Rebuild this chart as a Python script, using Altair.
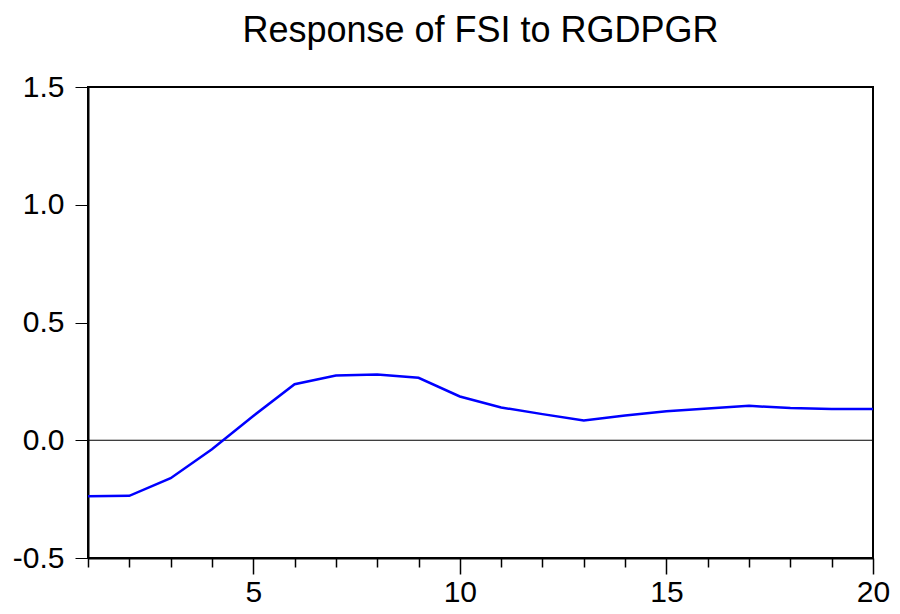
import altair as alt
import pandas as pd

periods = list(range(1, 21))
response = [-0.238, -0.236, -0.161, -0.038, 0.103, 0.238, 0.275, 0.279, 0.265, 0.186,
            0.139, 0.111, 0.084, 0.105, 0.123, 0.135, 0.146, 0.137, 0.133, 0.133]
y_ticks = [-0.5, 0.0, 0.5, 1.0, 1.5]
x_ticks = list(range(1, 21))
title_text = "Response of FSI to RGDPGR"

df = pd.DataFrame({"period": periods, "response": response})
zero_df = pd.DataFrame({"y": [0.0]})

FONT = "Liberation Sans"

x_enc = alt.X(
    "period:Q",
    scale=alt.Scale(domain=[1, 20], nice=False, zero=False),
    axis=alt.Axis(
        values=x_ticks,
        labelExpr="datum.value % 5 === 0 ? datum.label : ''",
        tickSize={"condition": {"test": "datum.value % 5 === 0", "value": 16}, "value": 9},
        tickColor="black",
        tickWidth=1.5,
        domainColor="black",
        domainWidth=2,
        labelFontSize=30,
        labelFont=FONT,
        labelColor="black",
        labelPadding=3,
        grid=False,
        title=None,
        labelFlush=False,
        labelOverlap=False,
    ),
)
y_enc = alt.Y(
    "response:Q",
    scale=alt.Scale(domain=[-0.5, 1.5], nice=False, zero=False),
    axis=alt.Axis(
        values=y_ticks,
        labelExpr="datum.value < 0 ? '-' + format(-datum.value, '.1f') : format(datum.value, '.1f')",
        tickSize=13,
        tickColor="black",
        domainColor="black",
        domainWidth=2,
        labelFontSize=30,
        labelFont=FONT,
        labelColor="black",
        labelPadding=11,
        grid=False,
        title=None,
        labelFlush=False,
        labelOverlap=False,
    ),
)

line = alt.Chart(df).mark_line(color="#0000FF", strokeWidth=2.5).encode(x=x_enc, y=y_enc)
zero = alt.Chart(zero_df).mark_rule(color="black", strokeWidth=1).encode(y="y:Q")

chart = (
    alt.layer(zero, line)
    .properties(
        width=785,
        height=471,
        title=alt.TitleParams(title_text, font=FONT, fontSize=36, fontWeight="normal",
                              color="black", anchor="middle", offset=22),
        autosize=alt.AutoSizeParams(type="none"),
        padding={"left": 80, "top": 79, "right": 19, "bottom": 48},
        background="white",
    )
    .configure_view(stroke="black", strokeWidth=2)
)

chart.save("out.html", embed_options={"renderer": "svg", "actions": False})
